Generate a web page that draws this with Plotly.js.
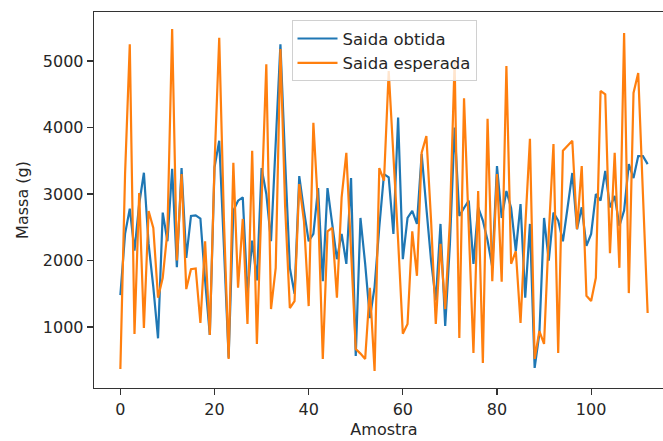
<!DOCTYPE html>
<html>
<head>
<meta charset="utf-8">
<script src="https://cdn.plot.ly/plotly-3.0.1.min.js"></script>
<style>html,body{margin:0;padding:0;background:#fff;overflow:hidden;width:663px;height:441px;}#chart{width:682px;height:441px;}</style>
</head>
<body>
<div id="chart"></div>
<script>
// Series values (index 0..112)
const saidaObtida = [
  1480, 2400, 2780, 2150, 2850, 3320, 2250, 1600, 830, 2720,
  2290, 3380, 1900, 3390, 2040, 2670, 2680, 2630, 1700, 880,
  3400, 3800, 2200, 540, 2750, 2900, 2950, 1500, 2300, 1700,
  3390, 3000, 2290, 3700, 5250, 3500, 1890, 1500, 3270, 2750,
  2290, 2400, 3090, 1690, 3090, 2550, 2020, 2400, 1950, 3240,
  565, 2640, 1950, 1135, 1600, 2500, 3300, 3250, 2400, 4150,
  2020, 2640, 2745, 2550, 3600, 2790, 2000, 1400, 2550, 1015,
  2250, 4000, 2670, 2790, 2900, 1950, 2800, 2600, 2300, 1900,
  3420, 2640, 3045, 2790, 2140, 2850, 1440, 2550, 385, 900,
  2640, 2000, 2720, 2600, 2290, 2800, 3316, 2470, 2800, 2220,
  2400, 3000, 2900, 3346, 2800, 2970, 2520, 2750, 3450, 3240,
  3570, 3570, 3450
];
const saidaEsperada = [
  370, 3300, 5250, 895, 3015, 985, 2745, 2490, 1440, 1740,
  2440, 5480, 2000, 3300, 1570, 1870, 1880, 1060, 2290, 880,
  3450, 5350, 2600, 520, 3470, 1590, 2625, 1045, 3650, 745,
  2900, 4950, 1270, 1890, 5180, 2800, 1285, 1390, 3150, 2590,
  1315, 4070, 2790, 520, 2440, 2490, 1440, 2950, 3620, 2100,
  670, 600, 520, 1590, 340, 3390, 3200, 4850, 3600, 2300,
  900, 1045, 2440, 1770, 3620, 3870, 2600, 1045, 2250, 1270,
  2600, 5000, 835, 4440, 2500, 610, 3045, 460, 4130, 1690,
  3300, 1680, 4925, 1950, 2140, 1060, 2500, 3830, 520, 940,
  745, 2400, 3750, 610, 3650, 3720, 3800, 2470, 3420, 1470,
  1390, 1740, 4550, 4500, 2110, 3620, 1890, 5420, 1510, 4520,
  4820, 3000, 1210
];
const seriesNames = ["Saida obtida", "Saida esperada"];
const xTicks = [0, 20, 40, 60, 80, 100];
const yTicks = [1000, 2000, 3000, 4000, 5000];
const xLabel = "Amostra";
const yLabel = "Massa (g)";

const idx = saidaObtida.map((_, i) => i);
const font = {family: "DejaVu Sans, sans-serif", size: 16, color: "#262626"};

const traces = [
  {x: idx, y: saidaObtida, name: seriesNames[0], type: "scatter", mode: "lines",
   line: {color: "#1f77b4", width: 2.2}},
  {x: idx, y: saidaEsperada, name: seriesNames[1], type: "scatter", mode: "lines",
   line: {color: "#ff7f0e", width: 2.2}}
];

const axisCommon = {
  showgrid: false, zeroline: false, showline: true, linecolor: "#333", linewidth: 1.3,
  mirror: true, ticks: "outside", ticklen: 6, tickwidth: 1.2, tickcolor: "#333",
  tickfont: font
};

const layout = {
  width: 682, height: 441,
  margin: {l: 94, r: 8, t: 12, b: 53},
  paper_bgcolor: "#fff", plot_bgcolor: "#fff",
  font: font,
  showlegend: true,
  legend: {
    x: 0.5, xanchor: "center", y: 0.978, yanchor: "top",
    bgcolor: "rgba(255,255,255,0.8)", bordercolor: "#d0d0d0", borderwidth: 1,
    font: {family: "DejaVu Sans, sans-serif", size: 16.5, color: "#262626"},
    itemwidth: 40
  },
  xaxis: Object.assign({}, axisCommon, {
    range: [-5.6, 117.6], tickvals: xTicks, ticktext: xTicks.map(String),
    title: {text: xLabel, font: font, standoff: 6}
  }),
  yaxis: Object.assign({}, axisCommon, {
    range: [83, 5737], tickvals: yTicks, ticktext: yTicks.map(String),
    title: {text: yLabel, font: font, standoff: 10}
  })
};

Plotly.newPlot("chart", traces, layout, {displayModeBar: false, staticPlot: true});
</script>
</body>
</html>
